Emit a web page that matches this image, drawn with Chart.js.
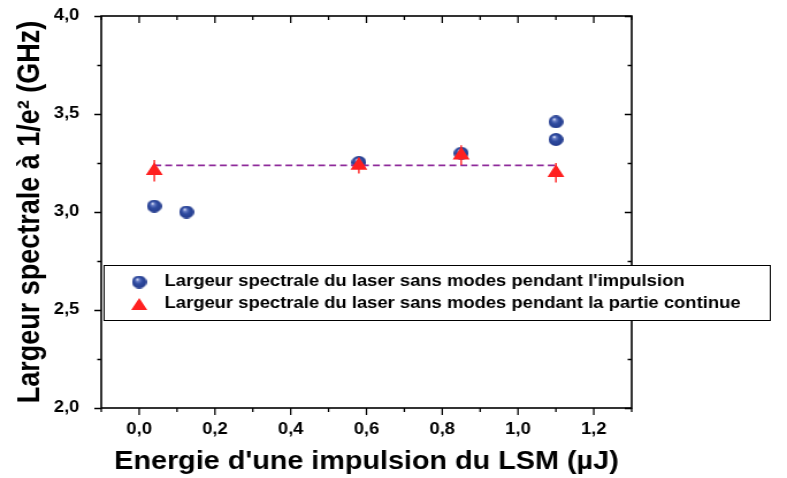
<!DOCTYPE html>
<html>
<head>
<meta charset="utf-8">
<script src="https://cdn.jsdelivr.net/npm/chart.js@4"></script>
<style>
  body { margin: 0; background: #fff; }
  /* la figure d'origine est étirée horizontalement (~1,15) : on étire le canvas pareil */
  #plot { width: 787px; height: 478px; display: block; }
</style>
</head>
<body>
<canvas id="plot" width="684" height="478" style="width:787px;height:478px"></canvas>
<script>
// Données
const pulseX = [0.04, 0.125, 0.58, 0.85, 1.1, 1.1];
const pulseY = [3.03, 3.00, 3.253, 3.30, 3.46, 3.37];
const cwX = [0.04, 0.58, 0.85, 1.1];
const cwY = [3.21, 3.237, 3.29, 3.20];
const cwErr = [0.055, 0.04, 0.05, 0.05];
const meanX = [0.04, 1.1];
const meanY = [3.238, 3.238];
const xTicks = [0.0, 0.2, 0.4, 0.6, 0.8, 1.0, 1.2];
const yTicks = [2.0, 2.5, 3.0, 3.5, 4.0];
const legendLabels = [
    "Largeur spectrale du laser sans modes pendant l'impulsion",
    "Largeur spectrale du laser sans modes pendant la partie continue"
];

const FONT = "'Liberation Sans', Arial, sans-serif";

// petite sphère bleue pour les points
function makeSphere(d) {
    const c = document.createElement('canvas');
    c.width = c.height = d;
    const r = d / 2;
    const g = c.getContext('2d');
    const grad = g.createRadialGradient(r * 0.75, r * 0.6, 0.3, r, r, r);
    grad.addColorStop(0, '#f4f6ff');
    grad.addColorStop(0.18, '#6b80c8');
    grad.addColorStop(0.5, '#304ca0');
    grad.addColorStop(1, '#223a8c');
    g.fillStyle = grad;
    g.beginPath();
    g.arc(r, r, r, 0, Math.PI * 2);
    g.fill();
    return c;
}
const sphere = makeSphere(13);

const toPts = (xs, ys) => xs.map((x, i) => ({ x: x, y: ys[i] }));

// cadre + graduations (majeures et mineures, intérieures en haut / à droite)
const framePlugin = {
    id: 'frame',
    afterDraw(chart) {
        const { ctx, chartArea: a, scales } = chart;
        const xs = scales.x, ys = scales.y;
        ctx.save();
        ctx.strokeStyle = '#000';
        ctx.lineWidth = 1.6;
        ctx.strokeRect(a.left, a.top, a.right - a.left, a.bottom - a.top);
        ctx.lineWidth = 1.3;
        ctx.beginPath();
        for (let v = -0.1; v <= 1.301; v += 0.1) {
            const px = xs.getPixelForValue(v);
            const major = Math.abs(Math.round(v * 10) % 2) === 0;
            const len = major ? 7 : 4;
            ctx.moveTo(px, a.bottom); ctx.lineTo(px, a.bottom + len);
            ctx.moveTo(px, a.top); ctx.lineTo(px, a.top + len);
        }
        for (let v = 2.0; v <= 4.001; v += 0.25) {
            const py = Math.round(ys.getPixelForValue(v)) + 0.5;
            const major = Math.abs(Math.round(v * 4) % 2) === 0;
            const len = major ? 6 : 3.5;
            ctx.moveTo(a.left, py); ctx.lineTo(a.left - len, py);
            ctx.moveTo(a.right, py); ctx.lineTo(a.right - len, py);
        }
        ctx.stroke();
        ctx.restore();
    }
};

// barres d'erreur des triangles
const errorPlugin = {
    id: 'errbars',
    afterDatasetsDraw(chart) {
        const { ctx, scales } = chart;
        ctx.save();
        ctx.strokeStyle = '#ff2020';
        ctx.lineWidth = 1.4;
        ctx.beginPath();
        cwX.forEach((x, i) => {
            const px = scales.x.getPixelForValue(x);
            ctx.moveTo(px, scales.y.getPixelForValue(cwY[i] - cwErr[i]));
            ctx.lineTo(px, scales.y.getPixelForValue(cwY[i] + cwErr[i]));
        });
        ctx.stroke();
        ctx.restore();
    }
};

// légende dessinée à la main (elle déborde du cadre)
const legendPlugin = {
    id: 'myLegend',
    afterDraw(chart) {
        const ctx = chart.ctx;
        ctx.save();
        ctx.fillStyle = '#fff';
        ctx.fillRect(90, 265, 579, 55);
        ctx.strokeStyle = '#000';
        ctx.lineWidth = 1;
        ctx.strokeRect(90.5, 265.5, 579, 55);
        ctx.drawImage(sphere, 121 - 6.5, 282 - 6.5);
        ctx.fillStyle = '#ff2020';
        ctx.beginPath();
        ctx.moveTo(121, 298);
        ctx.lineTo(128, 310);
        ctx.lineTo(114, 310);
        ctx.closePath();
        ctx.fill();
        ctx.fillStyle = '#000';
        ctx.font = 'bold 16px ' + FONT;
        ctx.textBaseline = 'middle';
        ctx.fillText(legendLabels[0], 143, 282);
        ctx.fillText(legendLabels[1], 143, 304);
        ctx.restore();
    }
};

const fmt = v => v.toFixed(1).replace('.', ',');

// taille des axes imposée, sans la marge ajoutée pour les étiquettes d'extrémité
function fixX(s) {
    s.height = 70;
    s.paddingLeft = 0; s.paddingRight = 0;
}
function fixY(s) {
    s.width = 88;
    s.paddingTop = 0; s.paddingBottom = 0;
}

new Chart(document.getElementById('plot'), {
    type: 'scatter',
    data: {
        datasets: [
            {
                label: legendLabels[1],
                data: toPts(cwX, cwY),
                pointStyle: 'triangle',
                pointRadius: 8.5,
                backgroundColor: '#ff2020',
                borderColor: '#ff2020',
                borderWidth: 0,
                order: 0
            },
            {
                type: 'line',
                label: 'moyenne',
                data: toPts(meanX, meanY),
                borderColor: '#8e2a9a',
                borderWidth: 1.7,
                borderDash: [6, 3.5],
                pointRadius: 0,
                fill: false,
                order: 1
            },
            {
                label: legendLabels[0],
                data: toPts(pulseX, pulseY),
                pointStyle: sphere,
                pointRadius: 6.5,
                order: 2
            }
        ]
    },
    options: {
        responsive: false,
        animation: false,
        layout: { padding: { top: 16, right: 135, left: 0, bottom: 0 } },
        plugins: {
            legend: { display: false },
            tooltip: { enabled: false }
        },
        scales: {
            x: {
                type: 'linear',
                min: -0.1,
                max: 1.3,
                afterBuildTicks: s => { s.ticks = xTicks.map(v => ({ value: v })); },
                afterFit: fixX,
                grid: { display: false, drawTicks: false },
                border: { display: false },
                ticks: {
                    padding: 12,
                    color: '#000',
                    font: { family: FONT, size: 16, weight: 'bold' },
                    callback: v => fmt(v)
                },
                title: {
                    display: true,
                    text: "Energie d'une impulsion du LSM (µJ)",
                    color: '#000',
                    font: { family: FONT, size: 25, weight: 'bold' },
                    padding: { top: 0, bottom: 1 }
                }
            },
            y: {
                type: 'linear',
                min: 2.0,
                max: 4.0,
                afterBuildTicks: s => { s.ticks = yTicks.map(v => ({ value: v })); },
                afterFit: fixY,
                grid: { display: false, drawTicks: false },
                border: { display: false },
                ticks: {
                    padding: 19,
                    color: '#000',
                    font: { family: FONT, size: 16, weight: 'bold' },
                    callback: v => fmt(v)
                },
                title: {
                    display: true,
                    text: 'Largeur spectrale à 1/e² (GHz)',
                    color: '#000',
                    font: { family: FONT, size: 27, weight: 'bold' },
                    padding: { top: 10, bottom: 0 }
                }
            }
        }
    },
    plugins: [framePlugin, errorPlugin, legendPlugin]
});
</script>
</body>
</html>
